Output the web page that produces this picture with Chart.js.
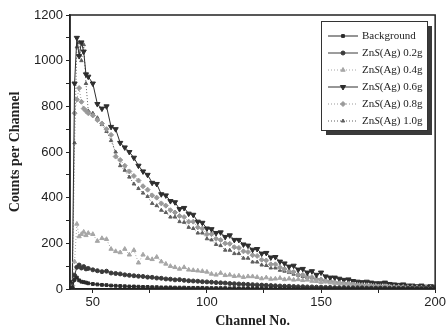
<!DOCTYPE html>
<html>
<head>
<meta charset="utf-8">
<title>Counts per Channel</title>
<script src="https://cdn.jsdelivr.net/npm/chart.js@4.4.0/dist/chart.umd.min.js"></script>
<style>
  html, body { margin: 0; padding: 0; background: #fff; }
  #wrap { width: 448px; height: 330px; }
</style>
</head>
<body>
<div id="wrap"><canvas id="spectrum" width="448" height="330"></canvas></div>
<script>
// channel numbers (x values)
const channels = [
  41, 42, 43, 44, 45, 46, 47, 48, 50, 52,
  54, 56, 58, 60, 62, 64, 66, 68, 70, 72,
  74, 76, 78, 80, 82, 84, 86, 88, 90, 92,
  94, 96, 98, 100, 102, 104, 106, 108, 110, 112,
  114, 116, 118, 120, 122, 124, 126, 128, 130, 132,
  134, 136, 138, 140, 142, 144, 146, 148, 150, 152,
  154, 156, 158, 160, 162, 164, 166, 168, 170, 172,
  174, 176, 178, 180, 182, 184, 186, 188, 190, 192,
  194, 196, 198, 200
];

const seriesLabels = ['Background', 'ZnS(Ag) 0.2g', 'ZnS(Ag) 0.4g', 'ZnS(Ag) 0.6g', 'ZnS(Ag) 0.8g', 'ZnS(Ag) 1.0g'];

const background = [
  5, 40, 50, 38, 32, 30, 28, 25, 22, 20,
  18, 17, 15, 14, 13, 12, 11, 11, 10, 9,
  9, 8, 8, 7, 7, 7, 6, 6, 6, 5,
  5, 5, 5, 4, 4, 4, 4, 4, 3, 4,
  3, 3, 3, 3, 3, 3, 2, 3, 2, 2,
  2, 2, 2, 2, 2, 2, 2, 2, 2, 2,
  2, 2, 1, 2, 1, 1, 1, 2, 1, 1,
  1, 1, 1, 1, 1, 1, 1, 1, 1, 1,
  1, 1, 1, 1
];

const zns02 = [
  5, 60, 95, 105, 92, 98, 88, 90, 84, 80,
  76, 78, 70, 68, 66, 62, 60, 58, 56, 55,
  52, 51, 48, 47, 44, 43, 40, 41, 38, 36,
  35, 34, 32, 31, 30, 28, 27, 26, 24, 23,
  22, 21, 20, 19, 18, 17, 16, 15, 14, 13,
  12, 12, 11, 10, 10, 9, 9, 8, 8, 7,
  7, 6, 6, 6, 5, 5, 5, 5, 4, 4,
  4, 4, 4, 3, 3, 3, 3, 3, 3, 2,
  2, 2, 2, 2
];

const zns04 = [
  5, 120, 285, 230, 240, 250, 235, 245, 240, 210,
  222, 218, 175, 165, 160, 175, 150, 170, 115, 150,
  135, 130, 140, 120, 110, 100, 95, 88, 95, 84,
  82, 80, 78, 75, 66, 62, 70, 60, 62, 56,
  58, 52, 55, 55, 52, 46, 50, 44, 45, 48,
  42, 45, 40, 42, 38, 40, 35, 34, 30, 32,
  28, 26, 25, 22, 22, 20, 18, 17, 16, 15,
  14, 12, 12, 11, 10, 10, 9, 8, 8, 7,
  6, 6, 5, 5
];

const zns06 = [
  30, 900, 1100, 1020, 1080, 1040, 940, 930, 900, 810,
  790, 800, 710, 700, 640, 620, 600, 575, 540, 515,
  500, 465, 460, 415, 410, 385, 380, 350, 355, 330,
  325, 295, 290, 265, 262, 245, 248, 228, 235, 215,
  215, 195, 190, 172, 175, 155, 158, 138, 140, 120,
  112, 98, 102, 85, 88, 72, 78, 62, 72, 55,
  50, 50, 45, 40, 42, 35, 32, 30, 32, 28,
  25, 25, 28, 22, 20, 18, 20, 15, 15, 12,
  15, 10, 12, 10
];

const zns08 = [
  15, 770, 830, 880, 820, 790, 780, 770, 760, 740,
  725, 700, 675, 580, 565, 540, 515, 495, 475, 450,
  435, 410, 400, 375, 365, 345, 335, 320, 315, 295,
  295, 270, 265, 240, 240, 220, 215, 200, 198, 183,
  180, 165, 162, 148, 145, 128, 125, 108, 108, 95,
  88, 78, 75, 63, 62, 54, 52, 44, 42, 36,
  35, 30, 28, 25, 25, 22, 20, 20, 18, 17,
  15, 15, 14, 12, 12, 11, 10, 10, 9, 8,
  8, 7, 7, 6
];

const zns10 = [
  10, 640, 1060, 1080, 1000, 1070, 900, 780, 770, 750,
  720, 690, 650, 600, 540, 520, 490, 460, 440, 420,
  405, 375, 365, 345, 335, 315, 315, 295, 292, 270,
  265, 245, 245, 220, 215, 195, 190, 170, 170, 155,
  155, 135, 135, 118, 118, 105, 103, 92, 92, 82,
  78, 72, 65, 60, 55, 50, 48, 42, 40, 35,
  33, 30, 28, 26, 24, 22, 20, 19, 18, 16,
  15, 14, 13, 12, 11, 10, 10, 9, 8, 8,
  7, 7, 6, 6
];

const xTicks = [50, 75, 100, 125, 150, 175, 200];
const yTicks = [0, 100, 200, 300, 400, 500, 600, 700, 800, 900, 1000, 1100, 1200];

const seriesValues = [background, zns02, zns04, zns06, zns08, zns10];

const looks = [
  { color: '#2b2b2b', dash: [],     point: 'rect',     rot: 0,   r: 2 },
  { color: '#3a3a3a', dash: [],     point: 'circle',   rot: 0,   r: 2 },
  { color: '#a6a6a6', dash: [1, 2], point: 'triangle', rot: 0,   r: 2.5 },
  { color: '#2e2e2e', dash: [],     point: 'triangle', rot: 180, r: 3 },
  { color: '#999999', dash: [1, 2], point: 'rectRot',  rot: 0,   r: 2.5 },
  { color: '#5e5e5e', dash: [1, 2], point: 'triangle', rot: 0,   r: 2 }
];

const datasets = seriesValues.map(function (vals, i) {
  const lk = looks[i];
  return {
    label: seriesLabels[i],
    data: channels.map((c, j) => ({ x: c, y: vals[j] })),
    borderColor: lk.color,
    backgroundColor: lk.color,
    borderWidth: 1,
    borderDash: lk.dash,
    pointStyle: lk.point,
    pointRotation: lk.rot,
    pointRadius: lk.r,
    pointBorderWidth: 1,
    pointBackgroundColor: lk.color,
    pointBorderColor: lk.color,
    tension: 0
  };
});

function drawLabel(ctx, text, x, y) {
  const m = text.match(/^ZnS(.*)$/);
  ctx.font = '11px "Liberation Serif"';
  if (!m) { ctx.fillText(text, x, y); return; }
  ctx.fillText('Zn', x, y);
  x += ctx.measureText('Zn').width;
  ctx.font = 'italic 11px "Liberation Serif"';
  ctx.fillText('S', x, y);
  x += ctx.measureText('S').width;
  ctx.font = '11px "Liberation Serif"';
  ctx.fillText(m[1], x, y);
}

// frame round the plot + boxed legend with shadow
const framePlugin = {
  id: 'frameAndLegend',
  afterDraw(chart) {
    const ctx = chart.ctx;
    const a = chart.chartArea;
    ctx.save();
    ctx.strokeStyle = '#222';
    ctx.lineWidth = 1.5;
    ctx.strokeRect(a.left, a.top, a.right - a.left, a.bottom - a.top);

    const bx = 321, by = 21, bw = 106, bh = 109;
    ctx.fillStyle = '#3a3a3a';
    ctx.fillRect(bx + 5, by + 5, bw, bh);
    ctx.fillStyle = '#fff';
    ctx.fillRect(bx, by, bw, bh);
    ctx.lineWidth = 1;
    ctx.strokeStyle = '#333';
    ctx.strokeRect(bx + 0.5, by + 0.5, bw, bh);

    chart.data.datasets.forEach(function (ds, i) {
      const y = 36 + i * 17;
      ctx.setLineDash(ds.borderDash);
      ctx.strokeStyle = ds.borderColor;
      ctx.lineWidth = 1;
      ctx.beginPath();
      ctx.moveTo(328, y);
      ctx.lineTo(358, y);
      ctx.stroke();
      ctx.setLineDash([]);
      ctx.fillStyle = ds.pointBackgroundColor;
      Chart.helpers.drawPoint(ctx, {
        pointStyle: ds.pointStyle, rotation: ds.pointRotation,
        radius: ds.pointRadius, borderWidth: 1
      }, 343, y);
      ctx.fillStyle = '#222';
      ctx.textBaseline = 'middle';
      ctx.textAlign = 'left';
      drawLabel(ctx, ds.label, 362, y);
    });
    ctx.restore();
  }
};

new Chart(document.getElementById('spectrum'), {
  type: 'line',
  data: { datasets: datasets },
  options: {
    responsive: false,
    animation: false,
    layout: { padding: { top: 15, right: 11, left: 0, bottom: 0 } },
    plugins: { legend: { display: false }, tooltip: { enabled: false } },
    scales: {
      x: {
        type: 'linear', min: 40, max: 200,
        afterBuildTicks(s) { s.ticks = xTicks.map(v => ({ value: v })); },
        afterFit(s) { s.height = 41; },
        ticks: {
          autoSkip: false, maxRotation: 0, padding: 2, color: '#222',
          font: { family: 'Liberation Sans', size: 13 },
          callback: v => (v % 50 === 0 ? String(v) : '')
        },
        grid: { drawOnChartArea: false, drawTicks: true, tickLength: 4, color: '#222' },
        border: { display: true, color: '#222', width: 1.5 },
        title: {
          display: true, text: 'Channel No.', color: '#222',
          font: { family: 'Liberation Serif', size: 14, weight: 'bold' },
          padding: { top: 0, bottom: 0 }
        }
      },
      y: {
        min: 0, max: 1200,
        afterBuildTicks(s) { s.ticks = yTicks.map(v => ({ value: v })); },
        afterFit(s) { s.width = 70; },
        ticks: {
          autoSkip: false, padding: 3, color: '#222',
          font: { family: 'Liberation Sans', size: 13 },
          callback: v => (v % 200 === 0 ? String(v) : '')
        },
        grid: { drawOnChartArea: false, drawTicks: true, tickLength: 4, color: '#222' },
        border: { display: true, color: '#222', width: 1.5 },
        title: {
          display: true, text: 'Counts per Channel', color: '#222',
          font: { family: 'Liberation Serif', size: 14, weight: 'bold' },
          padding: { top: 7, bottom: 0 }
        }
      }
    }
  },
  plugins: [framePlugin]
});
</script>
</body>
</html>
